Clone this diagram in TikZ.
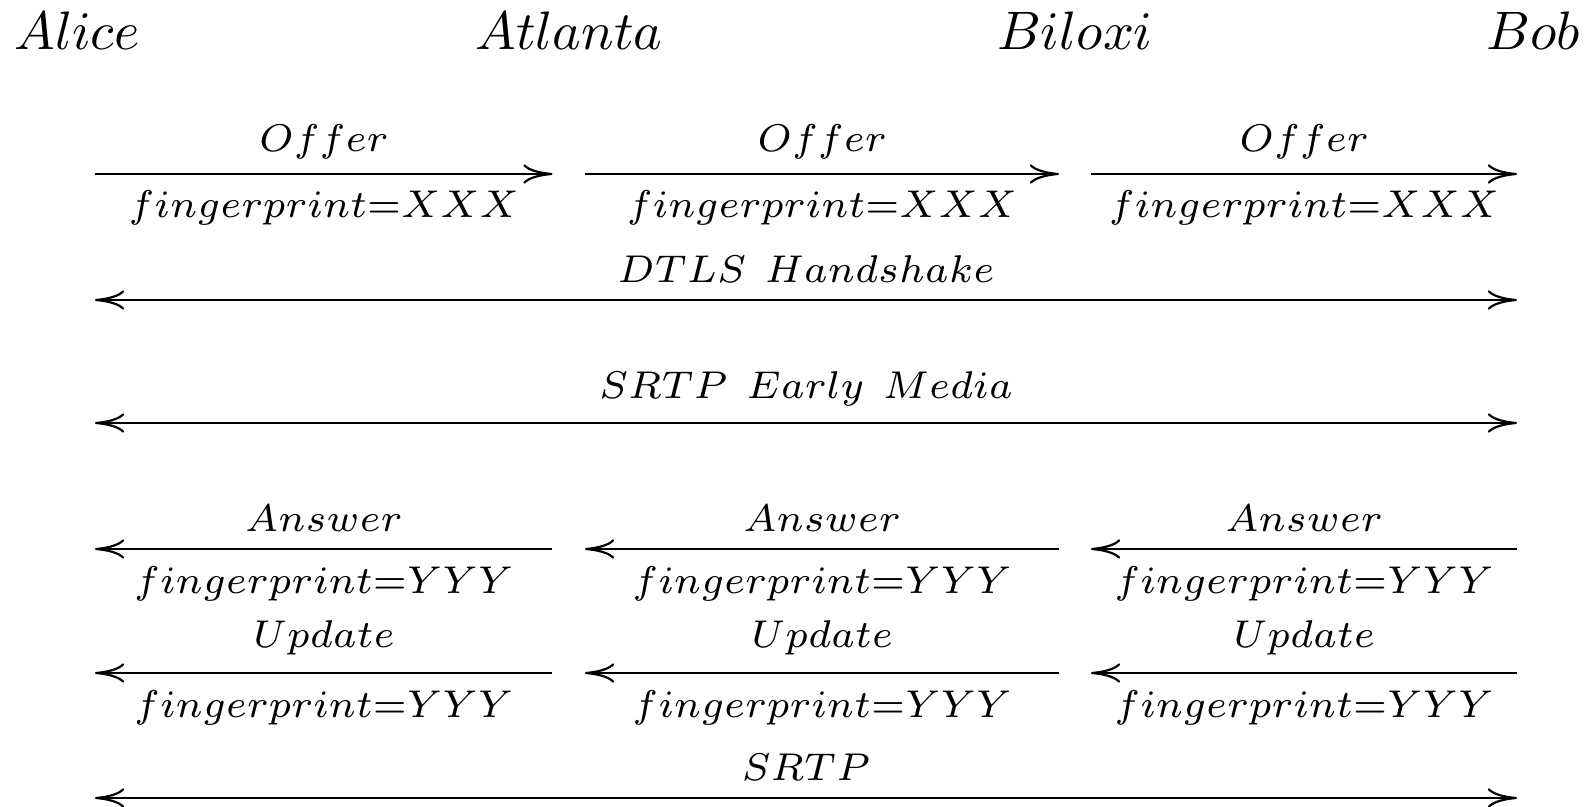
\documentclass[tikz,border=0pt]{standalone}
\usepackage{graphicx}
\usetikzlibrary{arrows.meta}
\newcommand\msgtext[1]{\scalebox{1.02}{$\scriptstyle #1$}}
\begin{document}
\begin{tikzpicture}[x=0.1845pt, y=-0.1845pt,
  party/.style={inner sep=0pt, anchor=base},
  lbl/.style={inner sep=0pt, anchor=base},
  msg/.style={line width=0.4pt},
  >={Computer Modern Rightarrow[length=5.4pt,width=3.6pt]}]
\useasboundingbox (0,0) rectangle (1589,807);

% parties
\node[party] (alice)   at (77,49.5)   {$Alice$};
\node[party] (atlanta) at (569,49.5)  {$Atlanta$};
\node[party] (biloxi)  at (1075,49.5) {$Biloxi$};
\node[party] (bob)     at (1533,49.5) {$Bob$};

% end points of the message lines
\foreach \r/\y in {of/174, dt/300, em/423, an/549, up/673, sr/798}{
  \coordinate (\r0) at (95,\y);
  \coordinate (\r1) at (552.5,\y);
  \coordinate (\r2) at (585,\y);
  \coordinate (\r3) at (1059,\y);
  \coordinate (\r4) at (1091,\y);
  \coordinate (\r5) at (1517,\y);
}

% offer
\draw[msg,->] (of0) -- (of1);
\draw[msg,->] (of2) -- (of3);
\draw[msg,->] (of4) -- (of5);
\node[lbl] (ofa) at (323.75,151) {\msgtext{Offer}};
\node[lbl] (ofb) at (822,151)    {\msgtext{Offer}};
\node[lbl] (ofc) at (1304,151)   {\msgtext{Offer}};
\node[lbl] (ofpa) at (323.75,218) {\msgtext{fingerprint{=}XXX}};
\node[lbl] (ofpb) at (822,218)    {\msgtext{fingerprint{=}XXX}};
\node[lbl] (ofpc) at (1304,218)   {\msgtext{fingerprint{=}XXX}};

% dtls handshake
\draw[msg,<->] (dt0) -- (dt5);
\node[lbl] (dtl) at (806,282.5) {\msgtext{DTLS\ Handshake}};

% early media
\draw[msg,<->] (em0) -- (em5);
\node[lbl] (eml) at (806,399) {\msgtext{SRTP\ Early\ Media}};

% answer
\draw[msg,->] (an1) -- (an0);
\draw[msg,->] (an3) -- (an2);
\draw[msg,->] (an5) -- (an4);
\node[lbl] (ana) at (323.75,532) {\msgtext{Answer}};
\node[lbl] (anb) at (822,532)    {\msgtext{Answer}};
\node[lbl] (anc) at (1304,532)   {\msgtext{Answer}};
\node[lbl] (anpa) at (323.75,593) {\msgtext{fingerprint{=}YYY}};
\node[lbl] (anpb) at (822,593)    {\msgtext{fingerprint{=}YYY}};
\node[lbl] (anpc) at (1304,593)   {\msgtext{fingerprint{=}YYY}};

% update
\draw[msg,->] (up1) -- (up0);
\draw[msg,->] (up3) -- (up2);
\draw[msg,->] (up5) -- (up4);
\node[lbl] (upa) at (323.75,648) {\msgtext{Update}};
\node[lbl] (upb) at (822,648)    {\msgtext{Update}};
\node[lbl] (upc) at (1304,648)   {\msgtext{Update}};
\node[lbl] (uppa) at (323.75,717) {\msgtext{fingerprint{=}YYY}};
\node[lbl] (uppb) at (822,717)    {\msgtext{fingerprint{=}YYY}};
\node[lbl] (uppc) at (1304,717)   {\msgtext{fingerprint{=}YYY}};

% srtp
\draw[msg,<->] (sr0) -- (sr5);
\node[lbl] (srl) at (806,780) {\msgtext{SRTP}};
\end{tikzpicture}
\end{document}
